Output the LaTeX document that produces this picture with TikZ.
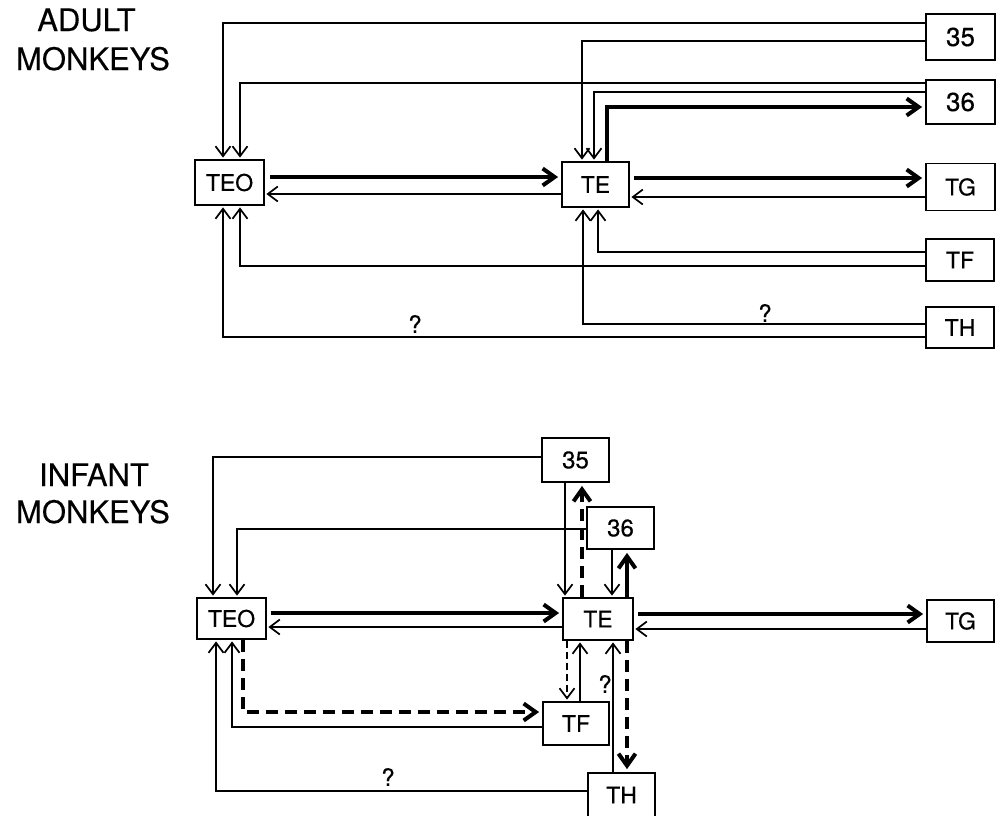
\documentclass[tikz,border=0pt]{standalone}
\usepackage{fontspec}
\setmainfont[FakeBold=0.3]{TeX Gyre Heros}
\usetikzlibrary{arrows.meta}
\tikzset{
  box/.style={draw, line width=1.8pt, inner sep=0pt, font=\fontsize{23}{23}\selectfont},
  anum/.style={box, font=\fontsize{26}{26}\selectfont},
  inum/.style={box, font=\fontsize{24}{24}\selectfont},
  thinarr/.style={line width=1.7pt, -{Straight Barb[length=10pt,width=15pt]}, shorten >=1.5pt},
  thickarr/.style={line width=4pt, -{Straight Barb[length=12pt,width=17pt]}, shorten >=3pt},
  thickdash/.style={thickarr, dash pattern=on 12pt off 7pt},
  thindash/.style={thinarr, dash pattern=on 7pt off 4pt},
  qmark/.style={font=\fontsize{24}{24}\selectfont, inner sep=0pt},
  title/.style={font=\fontsize{31}{31}\selectfont, inner sep=0pt, anchor=base},
}
\begin{document}
\begin{tikzpicture}[x=1pt,y=-1pt]
\fill[white] (0,0) rectangle (1000,815);
\useasboundingbox (0,0) rectangle (1000,815);

% ---------- titles ----------
\node[title] (aT1) at (86.5,31) {ADULT};
\node[title] (aT2) at (93,70) {MONKEYS};
\node[title] (iT1) at (94,486) {INFANT};
\node[title] (iT2) at (93,523) {MONKEYS};

% ---------- adult boxes ----------
\node[box, minimum width=69pt, minimum height=45pt] (aTEO) at (229.5,182.5) {TEO};
\node[box, minimum width=67pt, minimum height=45pt] (aTE) at (595.5,184.5) {TE};
\node[anum, minimum width=69pt, minimum height=46pt] (a35) at (960.5,37) {35};
\node[anum, minimum width=69pt, minimum height=44pt] (a36) at (960.5,102) {36};
\node[box, minimum width=69pt, minimum height=47pt] (aTG) at (960.5,187) {TG};
\node[box, minimum width=68pt, minimum height=42pt] (aTF) at (960,260) {TF};
\node[box, minimum width=68pt, minimum height=41pt] (aTH) at (960,327.5) {TH};

% ---------- adult connectors ----------
\draw[thinarr] (a35.west |- 0,23) -| (aTEO.north -| 223,0);
\draw[thinarr] (a35.west |- 0,41) -| (aTE.north -| 582,0);
\draw[thinarr] (a36.west |- 0,83) -| (aTEO.north -| 240,0);
\draw[thinarr] (a36.west |- 0,92) -| (aTE.north -| 594,0);
\draw[thickarr] (aTE.north -| 607,0) |- (a36.west |- 0,107);
\draw[thickarr, shorten <=5pt] (aTEO.east |- 0,177) -- (aTE.west |- 0,177);
\draw[thinarr] (aTE.west |- 0,194) -- (aTEO.east |- 0,194);
\draw[thickarr, shorten <=4pt] (aTE.east |- 0,178) -- (aTG.west |- 0,178);
\draw[thinarr] (aTG.west |- 0,197) -- (aTE.east |- 0,197);
\draw[thinarr] (aTF.west |- 0,252) -| (aTE.south -| 598,0);
\draw[thinarr] (aTF.west |- 0,266) -| (aTEO.south -| 240,0);
\draw[thinarr] (aTH.west |- 0,324) -| (aTE.south -| 583,0);
\draw[thinarr] (aTH.west |- 0,337) -| (aTEO.south -| 223,0);
\node[qmark] (aq1) at (765,313) {?};
\node[qmark] (aq2) at (415,324) {?};

% ---------- infant boxes ----------
\node[box, minimum width=69pt, minimum height=41pt] (iTEO) at (231.5,618.5) {TEO};
\node[box, minimum width=70pt, minimum height=42pt] (iTE) at (598,619) {TE};
\node[inum, minimum width=67pt, minimum height=44pt] (i35) at (575.5,460) {35};
\node[inum, minimum width=67pt, minimum height=42pt] (i36) at (620.5,528) {36};
\node[box, minimum width=67pt, minimum height=42pt] (iTG) at (960.5,621) {TG};
\node[box, minimum width=66pt, minimum height=43pt] (iTF) at (576,723.5) {TF};
\node[box, minimum width=67pt, minimum height=44pt] (iTH) at (621.5,795) {TH};

% ---------- infant connectors ----------
\draw[thinarr] (i35.west |- 0,457) -| (iTEO.north -| 213,0);
\draw[thinarr] (i36.west |- 0,529) -| (iTEO.north -| 237,0);
\draw[thinarr] (i35.south -| 565,0) -- (iTE.north -| 565,0);
\draw[thickdash] (iTE.north -| 582,0) -- (i35.south -| 582,0);
\draw[thinarr] (i36.south -| 612,0) -- (iTE.north -| 612,0);
\draw[thickarr] (iTE.north -| 627,0) -- (i36.south -| 627,0);
\draw[thickarr, shorten <=4pt] (iTEO.east |- 0,613) -- (iTE.west |- 0,613);
\draw[thinarr] (iTE.west |- 0,627) -- (iTEO.east |- 0,627);
\draw[thickarr, shorten <=4pt] (iTE.east |- 0,614) -- (iTG.west |- 0,614);
\draw[thinarr] (iTG.west |- 0,629) -- (iTE.east |- 0,629);
\draw[thickdash] (iTEO.south -| 243,0) |- (iTF.west |- 0,712);
\draw[thinarr] (iTF.west |- 0,727) -| (iTEO.south -| 232,0);
\draw[thinarr] (iTH.west |- 0,791) -| (iTEO.south -| 216,0);
\draw[thindash] (iTE.south -| 567,0) -- (iTF.north -| 567,0);
\draw[thinarr] (iTF.north -| 580,0) -- (iTE.south -| 580,0);
\draw[thinarr] (iTH.north -| 613,0) -- (iTE.south -| 613,0);
\draw[thickdash] (iTE.south -| 627,0) -- (iTH.north -| 627,0);
\node[qmark] (iq1) at (605,684) {?};
\node[qmark] (iq2) at (388,777) {?};
\end{tikzpicture}
\end{document}
